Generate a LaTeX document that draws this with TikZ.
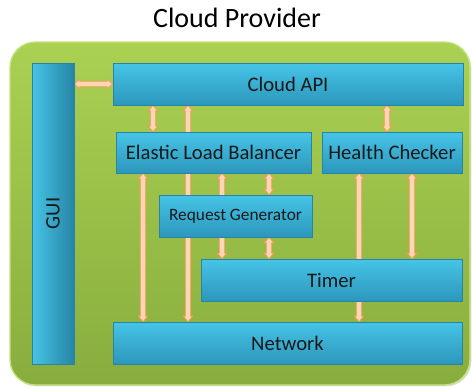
\documentclass[tikz,border=0pt]{standalone}
\usepackage{fontspec}
\setmainfont{Carlito}
\usetikzlibrary{calc,shadows}
\definecolor{bgtop}{HTML}{AAD152}
\definecolor{bgbot}{HTML}{88AD3E}
\definecolor{bgedge}{HTML}{C6E27E}
\definecolor{boxtop}{HTML}{46C4E6}
\definecolor{boxbot}{HTML}{2C97BC}
\definecolor{boxdark}{HTML}{2784A6}
\definecolor{boxedge}{HTML}{2584A8}
\definecolor{peach}{HTML}{FDD6B8}
\definecolor{arredge}{HTML}{F59B55}
\def\hw{3.6pt}
\def\sw{2pt}
\def\hl{4.2pt}
\newcommand{\varr}[3]{%
  \path[fatarrow] let \p1=(#2), \p2=(#3), \p3=(#1,0) in
    (\x3,\y1) -- (\x3+\hw,\y1-\hl) -- (\x3+\sw,\y1-\hl) -- (\x3+\sw,\y2+\hl)
    -- (\x3+\hw,\y2+\hl) -- (\x3,\y2) -- (\x3-\hw,\y2+\hl) -- (\x3-\sw,\y2+\hl)
    -- (\x3-\sw,\y1-\hl) -- (\x3-\hw,\y1-\hl) -- cycle;}
\newcommand{\harr}[3]{%
  \path[fatarrow] let \p1=(#2), \p2=(#3), \p3=(0,#1) in
    (\x1,\y3) -- (\x1+\hl,\y3+\hw) -- (\x1+\hl,\y3+\sw) -- (\x2-\hl,\y3+\sw)
    -- (\x2-\hl,\y3+\hw) -- (\x2,\y3) -- (\x2-\hl,\y3-\hw) -- (\x2-\hl,\y3-\sw)
    -- (\x1+\hl,\y3-\sw) -- (\x1+\hl,\y3-\hw) -- cycle;}
\tikzset{
  fatarrow/.style={fill=peach, draw=arredge, line width=0.6pt, line join=miter},
  boxbase/.style={draw=boxedge, line width=0.6pt,
    inner sep=0pt, font=\fontsize{15.5}{18}\selectfont, text=black!90,
    drop shadow={shadow xshift=0.8pt, shadow yshift=-0.8pt, opacity=0.35}},
  box/.style={boxbase, top color=boxtop, bottom color=boxbot},
  vbox/.style={boxbase, left color=boxtop, right color=boxdark},
}
\begin{document}
\begin{tikzpicture}[x=0.75pt,y=-0.75pt]
\useasboundingbox (0,0) rectangle (473,387);
\node[font=\fontsize{21}{25}\selectfont] (title) at (237,18) {Cloud Provider};
\path[draw=bgedge, line width=1pt, top color=bgtop, bottom color=bgbot, rounded corners=19pt,
  drop shadow={shadow xshift=1pt, shadow yshift=-1pt, opacity=0.3}]
  (10,42) rectangle (470,385);
% box positions
\coordinate (cgui) at (53,213.5);
\coordinate (capi) at (288,84);
\coordinate (celb) at (213.5,152.5);
\coordinate (chc) at (392,152.5);
\coordinate (crg) at (235.5,216);
\coordinate (ctm) at (331.5,280);
\coordinate (cnet) at (287.5,343);
% invisible outlines for the arrows' ends
\path node[inner sep=0, minimum width=31.5pt, minimum height=225.75pt] (gui0) at (cgui) {}
  node[inner sep=0, minimum width=262.5pt, minimum height=31.5pt] (api0) at (capi) {}
  node[inner sep=0, minimum width=146.25pt, minimum height=30.75pt] (elb0) at (celb) {}
  node[inner sep=0, minimum width=105pt, minimum height=30.75pt] (hc0) at (chc) {}
  node[inner sep=0, minimum width=114.75pt, minimum height=31.5pt] (rg0) at (crg) {}
  node[inner sep=0, minimum width=195.75pt, minimum height=31.5pt] (tm0) at (ctm) {}
  node[inner sep=0, minimum width=261.75pt, minimum height=31.5pt] (net0) at (cnet) {};
% arrows
\harr{84}{gui0.east}{api0.west}
\varr{153}{api0.south}{elb0.north}
\varr{188}{api0.south}{net0.north}
\varr{387}{api0.south}{hc0.north}
\varr{143}{elb0.south}{net0.north}
\varr{222}{elb0.south}{tm0.north}
\varr{269}{elb0.south}{rg0.north}
\varr{269}{rg0.south}{tm0.north}
\varr{359}{hc0.south}{net0.north}
\varr{412}{hc0.south}{tm0.north}
% boxes
\node[vbox, minimum width=31.5pt, minimum height=225.75pt] (gui) at (cgui) {};
\node[rotate=90, font=\fontsize{15.5}{18}\selectfont, text=black!90] (guilabel) at (gui) {GUI};
\node[box, minimum width=262.5pt, minimum height=31.5pt] (api) at (capi) {Cloud API};
\node[box, minimum width=146.25pt, minimum height=30.75pt] (elb) at (celb) {Elastic Load Balancer};
\node[box, minimum width=105pt, minimum height=30.75pt] (hc) at (chc) {Health Checker};
\node[box, minimum width=114.75pt, minimum height=31.5pt, font=\fontsize{13}{16}\selectfont] (rg) at (crg) {Request Generator};
\node[box, minimum width=195.75pt, minimum height=31.5pt] (tm) at (ctm) {Timer};
\node[box, minimum width=261.75pt, minimum height=31.5pt] (net) at (cnet) {Network};
\end{tikzpicture}
\end{document}
